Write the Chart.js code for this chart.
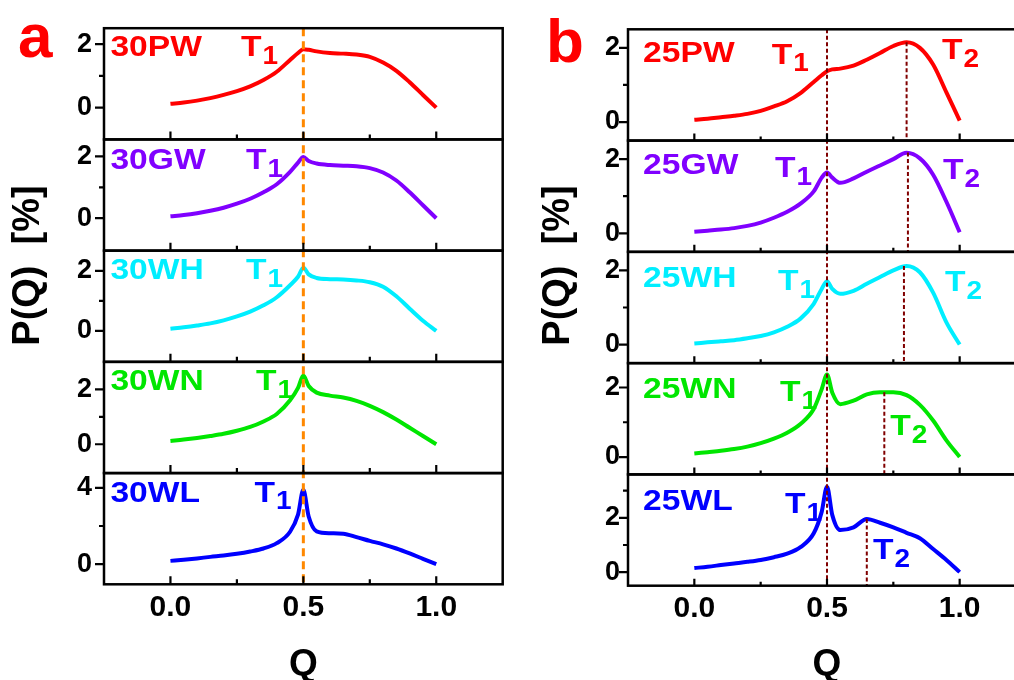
<!DOCTYPE html>
<html><head><meta charset="utf-8">
<script src="https://cdn.jsdelivr.net/npm/chart.js@4/dist/chart.umd.min.js"></script>
<style>
html,body{margin:0;padding:0;width:1014px;height:680px;overflow:hidden;background:#fff;}
canvas{position:absolute;top:0;}
#ca{left:0;}
#cb{left:524px;}
</style></head><body>
<canvas id="ca" width="507" height="680"></canvas>
<canvas id="cb" width="506" height="680"></canvas>
<script>
// ---------- data ----------
const Q = [0,0.05,0.1,0.15,0.2,0.25,0.3,0.35,0.4,0.45,0.48,0.5,0.52,0.55,0.6,0.65,0.7,0.75,0.8,0.85,0.9,0.95,1.0];

const namesA = ['30PW','30GW','30WH','30WN','30WL'];
const pw30 = [0.12,0.16,0.22,0.3,0.4,0.52,0.67,0.87,1.13,1.5,1.72,1.84,1.82,1.77,1.72,1.7,1.67,1.6,1.42,1.16,0.8,0.4,0.0];
const gw30 = [0.06,0.1,0.16,0.24,0.34,0.47,0.63,0.84,1.1,1.5,1.8,1.98,1.85,1.77,1.72,1.7,1.68,1.62,1.48,1.22,0.84,0.42,0.0];
const wh30 = [0.07,0.12,0.18,0.25,0.35,0.48,0.64,0.85,1.12,1.52,1.8,2.1,1.88,1.76,1.72,1.71,1.68,1.62,1.47,1.15,0.74,0.34,0.0];
const wn30 = [0.12,0.17,0.23,0.3,0.38,0.49,0.63,0.83,1.1,1.6,2.05,2.5,2.12,1.88,1.77,1.7,1.58,1.4,1.17,0.9,0.6,0.3,0.0];
const wl30 = [0.17,0.23,0.3,0.38,0.45,0.54,0.66,0.82,1.1,1.7,2.6,3.9,2.5,1.72,1.62,1.6,1.42,1.22,1.04,0.82,0.56,0.28,0.0];

const namesB = ['25PW','25GW','25WH','25WN','25WL'];
const pw25 = [0.06,0.09,0.13,0.17,0.22,0.3,0.42,0.56,0.78,1.08,1.26,1.37,1.42,1.44,1.52,1.68,1.86,2.05,2.15,2.0,1.55,0.8,0.04];
const gw25 = [0.04,0.07,0.1,0.14,0.2,0.29,0.42,0.58,0.8,1.13,1.5,1.64,1.5,1.36,1.48,1.66,1.83,2.0,2.17,2.02,1.58,0.85,0.03];
const wh25 = [0.03,0.06,0.09,0.12,0.17,0.23,0.33,0.48,0.7,1.1,1.5,1.71,1.5,1.37,1.45,1.64,1.82,2.0,2.12,1.95,1.4,0.6,0.0];
const wn25 = [0.1,0.14,0.18,0.23,0.3,0.4,0.53,0.7,0.95,1.38,1.95,2.37,1.85,1.52,1.62,1.8,1.86,1.86,1.78,1.5,1.05,0.48,0.0];
const wl25 = [0.15,0.2,0.26,0.32,0.38,0.45,0.55,0.68,0.92,1.43,2.22,3.15,2.1,1.55,1.65,1.96,1.82,1.65,1.45,1.25,0.85,0.45,0.0];

// T1 transition position, T2 peak positions (panel b)
const t1Q = 0.5;
const t2Q = [0.80, 0.805, 0.79, 0.716, 0.65];
const t2P = [2.15, 2.18, 2.12, 1.86, 1.96];

// axes / ticks
const xTicks = [0, 0.5, 1.0];
const xTickLabels = ['0.0', '0.5', '1.0'];
const xMinorTicks = [0.25, 0.75];
const yMajorA = [[0,2],[0,2],[0,2],[0,2],[0,4]];
const yMinorA = [[1],[1],[1],[1],[2]];
const yMajorB = [[0,2],[0,2],[0,2],[0,2],[0,2]];
const yMinorB = [[1],[1],[1],[1],[1,3]];

// ---------- styling / layout ----------
const FAM = "'Liberation Sans', Arial, sans-serif";
const colors = ['#ff0000', '#8000ff', '#00eeff', '#00e600', '#0000ff'];
const SX = 1.12; // horizontal stretch of annotation text

const panelA = {
  canvas: 'ca', letter: 'a', letterX: 18, letterY: 57, titleX: 29,
  names: namesA, series: [pw30, gw30, wh30, wn30, wl30],
  yMin: [-1, -1.05, -1.03, -1.05, -1.06], yMax: [2.5, 2.55, 2.67, 3.0, 4.78],
  yMajor: yMajorA, yMinor: yMinorA,
  pad: {top: 27.7, right: 4.3, left: 0, bottom: 0}, xAxisH: 95.7, yLabelPad: 12,
  vColor: '#ff8800', vWidth: 3, vDash: [8, 5],
  nameX: -0.226, nameY: [1.88, 1.85, 1.99, 2.28, 3.72],
  t1X: [0.265, 0.284, 0.284, 0.322, 0.316], t1Y: [1.88, 1.85, 1.99, 2.28, 3.72],
  t2: false, majorLenX: 8, minorLenX: 5
};
const panelB = {
  canvas: 'cb', letter: 'b', letterX: 22, letterY: 62, titleX: 35,
  names: namesB, series: [pw25, gw25, wh25, wn25, wl25],
  yMin: [-0.5, -0.5, -0.5, -0.5, -0.5], yMax: [2.5, 2.5, 2.5, 2.7, 3.6],
  yMajor: yMajorB, yMinor: yMinorB,
  pad: {top: 29.3, right: 4, left: 0, bottom: 0}, xAxisH: 94.3, yLabelPad: 8,
  vColor: '#800000', vWidth: 2, vDash: [4, 2.5],
  nameX: -0.193, nameY: [1.85, 1.82, 1.78, 1.93, 2.61],
  t1X: [0.292, 0.304, 0.315, 0.323, 0.342], t1Y: [1.8, 1.74, 1.69, 1.85, 2.47],
  t2: true, t2X: [0.933, 0.937, 0.945, 0.738, 0.673], t2Y: [1.91, 1.68, 1.66, 0.87, 0.78],
  majorLenX: 7, minorLenX: 4
};

function wideText(ctx, txt, x, y) {
  ctx.save();
  ctx.translate(x, y);
  ctx.scale(SX, 1);
  ctx.fillText(txt, 0, 0);
  const w = ctx.measureText(txt).width * SX;
  ctx.restore();
  return w;
}

function subText(ctx, main, sub, x, y, color) {
  ctx.fillStyle = color;
  ctx.textAlign = 'left';
  ctx.textBaseline = 'middle';
  ctx.font = `bold 30px ${FAM}`;
  const w = wideText(ctx, main, x, y);
  ctx.font = `bold 25px ${FAM}`;
  wideText(ctx, sub, x + w + 1, y + 9);
}

const annotPlugin = {
  id: 'annot',
  afterDatasetsDraw(chart) {
    const P = chart.options.plugins.annot.panel;
    const ctx = chart.ctx;
    const xs = chart.scales.x;
    const L = chart.chartArea.left, R = chart.chartArea.right;
    const T = chart.chartArea.top, B = chart.chartArea.bottom;
    ctx.save();
    // full-height T1 line
    ctx.strokeStyle = P.vColor; ctx.lineWidth = P.vWidth; ctx.setLineDash(P.vDash);
    const xv = xs.getPixelForValue(t1Q);
    ctx.beginPath(); ctx.moveTo(xv, T); ctx.lineTo(xv, B); ctx.stroke();
    // T2 drop lines
    if (P.t2) {
      t2Q.forEach((q, i) => {
        const ys = chart.scales['y' + i];
        const px = xs.getPixelForValue(q);
        ctx.beginPath(); ctx.moveTo(px, ys.getPixelForValue(t2P[i])); ctx.lineTo(px, ys.bottom); ctx.stroke();
      });
    }
    ctx.setLineDash([]);
    // frames and ticks
    ctx.strokeStyle = '#000';
    P.series.forEach((s, i) => {
      const ys = chart.scales['y' + i];
      ctx.lineWidth = 2.5;
      ctx.strokeRect(L, ys.top, R - L, ys.bottom - ys.top);
      ctx.lineWidth = 2.2;
      ctx.beginPath();
      P.yMajor[i].forEach(v => { const py = ys.getPixelForValue(v); ctx.moveTo(L, py); ctx.lineTo(L - 9, py); });
      P.yMinor[i].forEach(v => { const py = ys.getPixelForValue(v); ctx.moveTo(L, py); ctx.lineTo(L - 5, py); });
      xTicks.forEach(v => { const px = xs.getPixelForValue(v); ctx.moveTo(px, ys.bottom); ctx.lineTo(px, ys.bottom - P.majorLenX); });
      xMinorTicks.forEach(v => { const px = xs.getPixelForValue(v); ctx.moveTo(px, ys.bottom); ctx.lineTo(px, ys.bottom - P.minorLenX); });
      ctx.stroke();
      // labels
      ctx.fillStyle = colors[i];
      ctx.font = `bold 30px ${FAM}`;
      ctx.textAlign = 'left'; ctx.textBaseline = 'middle';
      wideText(ctx, P.names[i], xs.getPixelForValue(P.nameX), ys.getPixelForValue(P.nameY[i]));
      subText(ctx, 'T', '1', xs.getPixelForValue(P.t1X[i]), ys.getPixelForValue(P.t1Y[i]), colors[i]);
      if (P.t2) subText(ctx, 'T', '2', xs.getPixelForValue(P.t2X[i]), ys.getPixelForValue(P.t2Y[i]), colors[i]);
    });
    // panel letter
    ctx.fillStyle = '#ff0000';
    ctx.font = `bold 62px ${FAM}`;
    ctx.textAlign = 'left'; ctx.textBaseline = 'alphabetic';
    ctx.fillText(P.letter, P.letterX, P.letterY);
    // axis titles
    ctx.fillStyle = '#000';
    ctx.font = `bold 37px ${FAM}`;
    ctx.textAlign = 'center'; ctx.textBaseline = 'middle';
    ctx.fillText('Q', xs.getPixelForValue(0.5), 665);
    ctx.translate(P.titleX, 265.5);
    ctx.rotate(-Math.PI / 2);
    ctx.font = `bold 38px ${FAM}`;
    ctx.fillText('P(Q)  [%]', 0, 0);
    ctx.restore();
  }
};

function makeChart(P) {
  const scales = {
    x: {
      type: 'linear', position: 'bottom', min: -0.25, max: 1.25,
      grid: {display: false, drawTicks: false}, border: {display: false},
      afterBuildTicks: s => { s.ticks = xTicks.map(v => ({value: v})); },
      afterFit: s => { s.height = P.xAxisH; },
      ticks: {font: {family: FAM, size: 30, weight: 'bold'}, color: '#000', padding: 5,
              maxRotation: 0, autoSkip: false, callback: (v, i) => xTickLabels[i]}
    }
  };
  P.series.forEach((s, i) => {
    scales['y' + i] = {
      type: 'linear', position: 'left', stack: 'panel', stackWeight: 1, weight: 10 - i,
      min: P.yMin[i], max: P.yMax[i],
      grid: {display: false, drawTicks: false}, border: {display: false},
      afterBuildTicks: sc => { sc.ticks = P.yMajor[i].map(v => ({value: v})); },
      afterFit: sc => { sc.width = 104; },
      ticks: {font: {family: FAM, size: 27, weight: 'bold'}, color: '#000', padding: P.yLabelPad,
              callback: v => String(v)}
    };
  });
  return new Chart(document.getElementById(P.canvas), {
    type: 'line',
    data: {
      datasets: P.series.map((s, i) => ({
        label: P.names[i],
        data: Q.map((q, k) => ({x: q, y: s[k]})),
        xAxisID: 'x', yAxisID: 'y' + i,
        borderColor: colors[i], borderWidth: 4, pointRadius: 0,
        cubicInterpolationMode: 'monotone', fill: false
      }))
    },
    options: {
      responsive: false, animation: false, events: [],
      layout: {padding: P.pad},
      scales,
      plugins: {legend: {display: false}, tooltip: {enabled: false}, annot: {panel: P}}
    },
    plugins: [annotPlugin]
  });
}
makeChart(panelA);
makeChart(panelB);
</script>
</body></html>
